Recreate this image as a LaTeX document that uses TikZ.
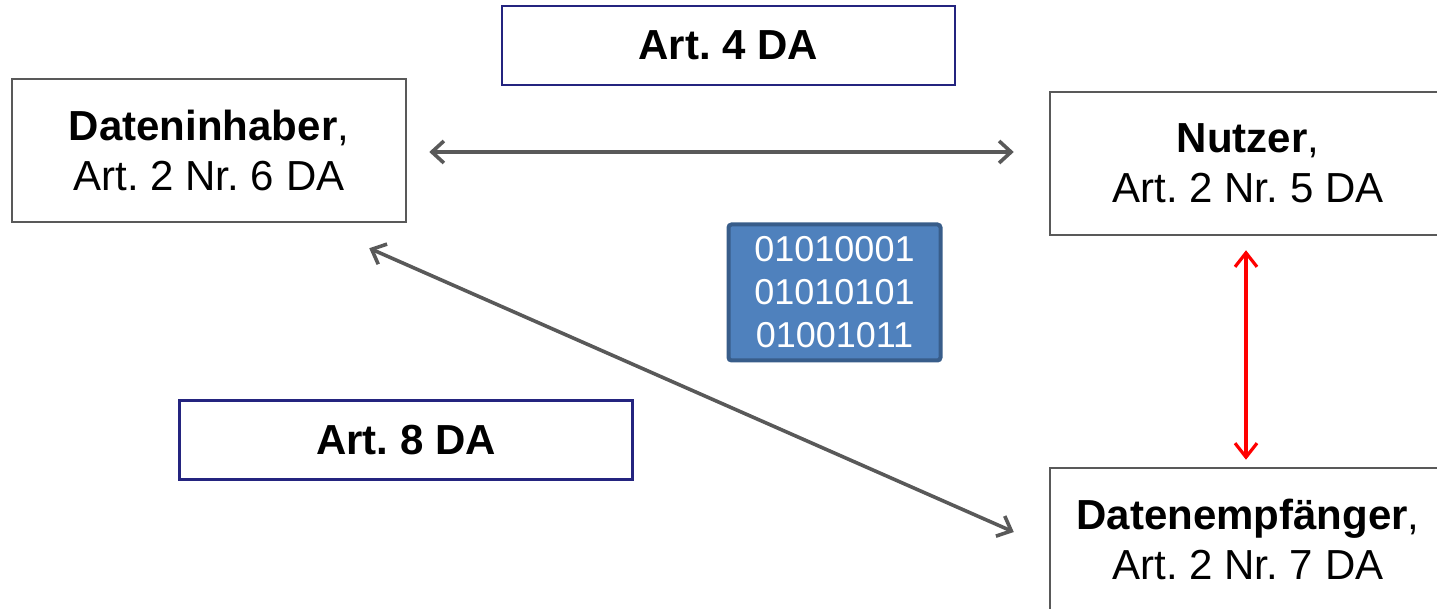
\documentclass[tikz,border=0pt]{standalone}
\usepackage{fontspec}
\setmainfont{Liberation Sans}
\usetikzlibrary{arrows.meta}
\definecolor{lgray}{HTML}{595959}
\definecolor{navy}{HTML}{24247F}
\definecolor{binfill}{HTML}{4F81BD}
\definecolor{binline}{HTML}{385D8A}
\frenchspacing
\begin{document}
\begin{tikzpicture}[x=0.5pt,y=-0.5pt,
  gbox/.style={draw=lgray, line width=1.25pt, fill=white, minimum width=197pt, minimum height=71.5pt, inner sep=0pt, align=center, font=\fontsize{21}{25}\selectfont},
  artbox/.style={draw=navy, line width=1.25pt, fill=white, minimum width=226.5pt, minimum height=39.5pt, inner sep=0pt, align=center, font=\fontsize{21}{25}\selectfont\bfseries},
  binbox/.style={draw=binline, line width=2pt, fill=binfill, rounded corners=1.5pt, minimum width=106pt, minimum height=68pt, inner sep=0pt, align=center, text=white, font=\fontsize{18}{21.5}\selectfont},
  garrow/.style={draw=lgray, line width=1.8pt, {Straight Barb[length=6pt,width=11pt]}-{Straight Barb[length=6pt,width=11pt]}},
  rarrow/.style={draw=red, line width=1.6pt, {Straight Barb[length=7pt,width=11pt]}-{Straight Barb[length=7pt,width=11pt]}}
]
\useasboundingbox (0,0) rectangle (1437,609);
\node[gbox] (inh) at (209,150.5) {\textbf{Dateninhaber},\\Art. 2 Nr. 6 DA};
\node[gbox, minimum width=198pt] (nut) at (1248,163.5) {\textbf{Nutzer},\\Art. 2 Nr. 5 DA};
\node[gbox, minimum width=198pt] (emp) at (1248,539.5) {\textbf{Datenempfänger},\\Art. 2 Nr. 7 DA};
\node[artbox] (a4) at (728.5,45.5) {Art. 4 DA};
\node[artbox] (a8) at (406,440) {Art. 8 DA};
\node[binbox] (bin) at (834.5,292.5) {01010001\\01010101\\01001011};
\draw[garrow] ([shift={(22,1.5)}]inh.east) -- ([shift={(-35,-11.5)}]nut.west);
\draw[garrow] ([shift={(-38,25)}]inh.south east) -- ([shift={(-35,-7.5)}]emp.west);
\draw[rarrow] ([shift={(-2,14)}]nut.south) -- ([shift={(-2,-7)}]emp.north);
\end{tikzpicture}
\end{document}
